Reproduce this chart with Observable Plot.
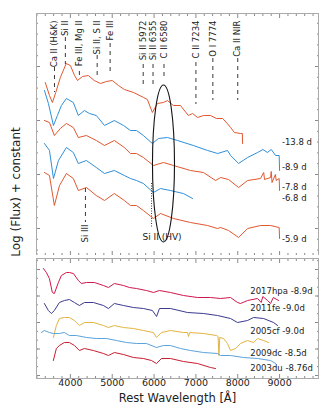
<!DOCTYPE html>
<html><head><meta charset="utf-8">
<script src="https://cdn.jsdelivr.net/npm/d3@7"></script>
<script src="https://cdn.jsdelivr.net/npm/@observablehq/plot@0.6"></script>
<style>
body{margin:0;background:#fff;font-family:"DejaVu Sans",sans-serif;}
#wrap{position:relative;width:332px;height:414px;overflow:hidden;}
#wrap svg{display:block;}
#ylab{position:absolute;left:16px;top:192px;transform:translate(-50%,-50%) rotate(-90deg);font-size:12px;white-space:nowrap;color:#222;}
</style></head><body>
<div id="wrap"><div id="ylab">Log (Flux) + constant</div></div>
<script>
// ---------- top panel: spectra [rest wavelength Å, log flux + const] ----------
const spec_m138 = [[3400,17.3],[3500,16.0],[3570,15.3],[3650,16.3],[3760,17.8],[3900,19.2],[4000,19.0],[4100,18.0],[4170,17.5],[4290,17.9],[4430,18.0],[4570,17.5],[4720,17.2],[4860,17.4],[5000,17.5],[5150,17.0],[5290,16.6],[5510,16.3],[5750,15.8],[5840,15.6],[5960,14.3],[6080,15.2],[6220,15.3],[6320,15.5],[6460,15.0],[6630,15.0],[6820,14.0],[6920,14.2],[7040,13.8],[7180,14.0],[7350,14.0],[7490,13.7],[7640,13.7],[7750,13.2],[7830,12.8],[7920,12.3],[8070,12.2],[8110,12.2],[8115,11.2]];
const spec_m89 = [[3380,16.5],[3475,15.2],[3595,13.0],[3690,14.0],[3785,15.0],[3905,15.7],[4070,15.3],[4190,14.0],[4335,14.5],[4455,14.2],[4620,14.0],[4815,13.0],[5050,13.5],[5270,13.0],[5435,12.5],[5580,12.5],[5745,12.0],[5960,11.2],[6105,11.7],[6320,11.8],[6560,11.5],[6940,11.0],[7280,10.5],[7520,10.2],[7755,10.5],[7830,10.0],[8020,9.2],[8235,9.8],[8475,10.3],[8600,10.6],[8710,10.3],[8800,10.6],[8905,10.0],[8990,10.0],[9000,8.5]];
const spec_m78 = [[3380,13.5],[3500,13.3],[3617,12.0],[3760,12.7],[3905,13.2],[4070,12.8],[4190,11.8],[4383,12.0],[4620,11.5],[4815,11.0],[5050,11.5],[5290,10.8],[5435,10.2],[5580,10.2],[5745,9.8],[5985,9.0],[6225,9.3],[6465,9.0],[6870,8.5],[7180,8.3],[7470,7.5],[7590,7.8],[7780,7.6],[8020,6.8],[8235,7.5],[8545,7.7],[8620,8.3],[8640,7.6],[8785,7.8],[8800,8.4],[8820,7.3],[8900,8.1],[8920,7.5],[8990,7.7],[9000,6.5]];
const spec_m68 = [[3380,11.2],[3500,10.5],[3595,7.7],[3715,9.5],[3905,10.8],[4070,10.3],[4190,9.2],[4383,9.5],[4620,8.8],[4815,8.2],[5050,8.5],[5290,8.0],[5435,7.7],[5580,7.5],[5745,7.2],[5985,6.3],[6155,6.7],[6390,6.5],[6700,6.2],[6920,5.7]];
const spec_m59 = [[3380,8.3],[3500,8.0],[3617,5.0],[3740,7.0],[3905,8.2],[4070,7.7],[4190,6.5],[4383,6.8],[4620,6.0],[4815,5.5],[5050,6.2],[5290,5.5],[5435,5.0],[5580,5.0],[5745,4.5],[5985,3.7],[6155,4.2],[6465,3.7],[6870,3.3],[7277,3.0],[7516,2.7],[7590,2.8],[7780,2.5],[8020,1.8],[8235,2.7],[8545,3.0],[8785,3.0],[8990,2.8],[9000,1.7]];
const topEpochs = ["-13.8 d", "-8.9 d", "-7.8 d", "-6.8 d", "-5.9 d"];
const topSpectra = [spec_m138, spec_m89, spec_m78, spec_m68, spec_m59];
const topColors = ["#e2572f", "#2f8fd8", "#e2572f", "#2f8fd8", "#e2572f"];
const topLabelY = [11.3, 8.8, 6.8, 5.75, 1.6];

// line identifications
const lineNames = ["Ca II (H&K)", "Si II", "Fe III, Mg II", "Si II, S II", "Fe III", "Si II 5972", "Si II 6355", "C II 6580", "C II 7234", "O I 7774", "Ca II NIR"];
const lineWl = [3620, 3880, 4215, 4640, 4950, 5740, 5975, 6237, 7000, 7405, 8000];
const lineDashTop = [18.8, 21.8, 18.4, 20.0, 21.2, 19.1, 19.1, 19.1, 19.3, 19.7, 19.7];
const lineDashBottom = [16.3, 19.1, 17.6, 17.7, 18.1, 16.7, 16.7, 17.5, 15.1, 15.5, 15.5];
const siIII = {name: "Si III", wl: 4360, dashTop: 6.7, dashBottom: 3.3, textTop: 3.1};
const siHV = {name: "Si II (HV)", wl: 6190, textY: 1.8, lineWl: 5940, lineTop: 7.2, lineBottom: 2.7};
const ellipse = {wl: 6237, y: 9.15, halfWl: 263, halfY: 7.85};

// ---------- bottom panel: comparison spectra ----------
const spec_17hpa = [[3354,11.0],[3426,10.6],[3498,10.0],[3569,8.6],[3617,8.5],[3713,9.6],[3785,10.3],[3904,10.6],[3976,10.6],[4072,10.5],[4191,9.8],[4263,9.5],[4383,9.6],[4574,9.6],[4789,9.3],[4909,9.1],[5052,9.5],[5268,9.3],[5411,9.1],[5579,9.0],[5818,8.8],[5985,8.6],[6129,8.8],[6392,8.6],[6703,8.3],[7038,8.1],[7349,8.1],[7588,8.0],[7827,8.1],[7995,7.6],[8067,7.5],[8234,7.8],[8473,8.0],[8560,7.6],[8600,8.2],[8712,7.8],[8784,7.5],[8850,8.1],[8976,7.8]];
const spec_11fe = [[3378,7.5],[3474,6.8],[3545,6.5],[3617,6.8],[3737,7.6],[3856,7.8],[3976,7.9],[4096,7.6],[4215,7.3],[4335,7.6],[4550,7.6],[4789,7.3],[4909,7.0],[5052,7.5],[5268,7.3],[5507,7.1],[5746,7.0],[5960,6.8],[6060,6.2],[6129,7.0],[6392,7.0],[6799,6.6],[7181,6.5],[7516,6.3],[7827,6.0],[7995,5.6],[8234,5.8],[8378,6.1],[8617,6.0],[8856,5.6],[8952,5.3]];
const spec_05cf = [[3593,4.1],[3665,5.3],[3737,6.0],[3856,6.1],[3976,6.1],[4096,5.8],[4215,5.3],[4335,5.6],[4550,5.6],[4789,5.3],[4909,5.1],[5052,5.3],[5268,5.1],[5507,5.0],[5746,4.8],[5985,4.6],[6057,4.1],[6177,4.6],[6392,4.8],[6703,4.6],[6800,4.6],[6823,4.2],[6850,4.6],[7181,4.5],[7490,4.3],[7530,4.2],[7550,2.3],[7570,4.1],[7660,4.0],[7755,3.5],[7827,2.8],[7947,3.0],[8067,3.5],[8234,3.8],[8378,3.6],[8473,4.0],[8617,3.8],[8737,3.6]];
const spec_09dc = [[3306,4.6],[3378,4.8],[3498,4.6],[3593,4.5],[3737,4.5],[3856,4.6],[3976,4.3],[4144,4.3],[4383,4.1],[4622,4.0],[4861,4.0],[5100,3.8],[5340,3.6],[5579,3.5],[5818,3.5],[6057,3.1],[6225,3.3],[6392,3.3],[6631,3.0],[6870,2.8],[7181,2.6],[7516,2.5],[7588,2.3],[7827,2.3],[8138,2.1],[8473,2.0],[8784,1.8],[8904,1.5]];
const spec_03du = [[3593,1.8],[3665,3.0],[3737,3.3],[3856,3.6],[3976,3.6],[4096,3.3],[4215,2.8],[4335,3.0],[4550,2.8],[4789,2.5],[4909,2.3],[5052,2.6],[5268,2.4],[5507,2.1],[5746,2.0],[5937,1.8],[6057,1.5],[6177,2.0],[6392,2.0],[6703,1.7],[7038,1.5],[7349,1.1],[7468,1.0]];
const compNames = ["2017hpa -8.9d", "2011fe -9.0d", "2005cf -9.0d", "2009dc -8.5d", "2003du -8.76d"];
const compSpectra = [spec_17hpa, spec_11fe, spec_05cf, spec_09dc, spec_03du];
const compColors = ["#d0174c", "#3b3a8f", "#e3b341", "#5ba3dd", "#c81c30"];
const compLabelY = [8.7, 7.0, 4.7, 2.5, 1.0];

const xTicks = [4000, 5000, 6000, 7000, 8000, 9000];
const xTitle = "Rest Wavelength [Å]";

// ---------- helpers ----------
const xDomain = [3190, 9930];
const minorX = d3.range(3200, 9930, 200).filter(v => v % 1000 !== 0);
const rows = (names, specs) => names.flatMap((n, i) => specs[i].map(([w, f]) => ({name: n, w, f})));
const frameStroke = "#aaa", tickStroke = "#8a8a8a";
function boxTicks(majY, minY) {
  const noText = () => "";
  const o = {tickFormat: noText, label: null, stroke: tickStroke};
  return [
    Plot.axisX({...o, anchor: "bottom", ticks: xTicks, tickSize: -4}),
    Plot.axisX({...o, anchor: "bottom", ticks: minorX, tickSize: -2}),
    Plot.axisX({...o, anchor: "top", ticks: xTicks, tickSize: -4}),
    Plot.axisX({...o, anchor: "top", ticks: minorX, tickSize: -2}),
    Plot.axisY({...o, anchor: "left", ticks: majY, tickSize: -4}),
    Plot.axisY({...o, anchor: "left", ticks: minY, tickSize: -2}),
    Plot.axisY({...o, anchor: "right", ticks: majY, tickSize: -4}),
    Plot.axisY({...o, anchor: "right", ticks: minY, tickSize: -2})
  ];
}

// ---------- top plot ----------
const topRows = rows(topEpochs, topSpectra);
const lineLabels = lineNames.map((n, i) => ({name: n, wl: lineWl[i], top: lineDashTop[i], bottom: lineDashBottom[i]}));
const topLabels = topEpochs.map((n, i) => ({name: n, y: topLabelY[i]}));

const topPlot = Plot.plot({
  width: 332, height: 255,
  marginLeft: 36, marginRight: 14, marginTop: 13, marginBottom: 0,
  x: {domain: xDomain},
  y: {domain: [0, 24.2]},
  color: {domain: topEpochs, range: topColors},
  style: {fontFamily: "DejaVu Sans", fontSize: "8.5px", color: "#222", background: "white"},
  marks: [
    ...boxTicks(d3.range(2.7, 24.2, 5.4), d3.range(0.54, 24.2, 1.08)),
    Plot.line(topRows, {x: "w", y: "f", z: "name", stroke: "name", strokeWidth: 1}),
    Plot.ruleX(lineLabels, {x: "wl", y1: "top", y2: "bottom", stroke: "#222", strokeDasharray: "4,4", strokeWidth: 0.9}),
    Plot.text(lineLabels, {x: "wl", frameAnchor: "top", dy: 7, text: "name", rotate: -90, textAnchor: "end", lineAnchor: "middle", fill: "#222", fontSize: 8.5}),
    Plot.ruleX([siIII], {x: "wl", y1: "dashTop", y2: "dashBottom", stroke: "#222", strokeDasharray: "4,4", strokeWidth: 0.9}),
    Plot.text([siIII], {x: "wl", y: "textTop", text: "name", rotate: -90, textAnchor: "end", lineAnchor: "middle", fill: "#222", fontSize: 8.5}),
    Plot.ruleX([siHV], {x: "lineWl", y1: "lineTop", y2: "lineBottom", stroke: "#222", strokeDasharray: "1,1.5", strokeWidth: 0.9}),
    Plot.text([siHV], {x: "wl", y: "textY", text: "name", fill: "#222", fontSize: 9}),
    (index, scales) => {
      const x = scales.x, y = scales.y;
      const cx = x(ellipse.wl), cy = y(ellipse.y);
      const rx = Math.abs(x(ellipse.wl + ellipse.halfWl) - cx);
      const ry = Math.abs(y(ellipse.y + ellipse.halfY) - cy);
      return d3.create("svg:ellipse").attr("cx", cx).attr("cy", cy).attr("rx", rx).attr("ry", ry)
        .attr("fill", "none").attr("stroke", "#111").attr("stroke-width", 1.1).node();
    },
    Plot.text(topLabels, {x: () => 9055, y: "y", text: "name", textAnchor: "start", fill: "#222", fontSize: 8.5}),
    Plot.frame({stroke: frameStroke})
  ]
});

// ---------- bottom plot ----------
const compRows = rows(compNames, compSpectra);
const compLabels = compNames.map((n, i) => ({name: n, y: compLabelY[i]}));
const bottomPlot = Plot.plot({
  width: 332, height: 159,
  marginLeft: 36, marginRight: 14, marginTop: 3, marginBottom: 36,
  x: {domain: xDomain},
  y: {domain: [0, 12]},
  color: {domain: compNames, range: compColors},
  style: {fontFamily: "DejaVu Sans", fontSize: "9.5px", color: "#222", background: "white"},
  marks: [
    ...boxTicks(d3.range(0.3, 12, 2.65), d3.range(0.3, 12, 2.65 / 3)),
    Plot.axisX({anchor: "bottom", ticks: xTicks, tickSize: 0, tickPadding: 1, tickFormat: d => String(d), label: null, fontSize: 9.5}),
    Plot.line(compRows, {x: "w", y: "f", z: "name", stroke: "name", strokeWidth: 1}),
    Plot.text(compLabels, {x: () => 8300, y: "y", text: "name", textAnchor: "start", fill: "#222", fontSize: 8.5}),
    Plot.text([xTitle], {frameAnchor: "bottom", dy: 23, text: d => d, fontSize: 11.5, fill: "#222"}),
    Plot.frame({stroke: frameStroke})
  ]
});

const wrap = document.getElementById("wrap");
wrap.appendChild(topPlot);
wrap.appendChild(bottomPlot);
</script>
</body></html>
